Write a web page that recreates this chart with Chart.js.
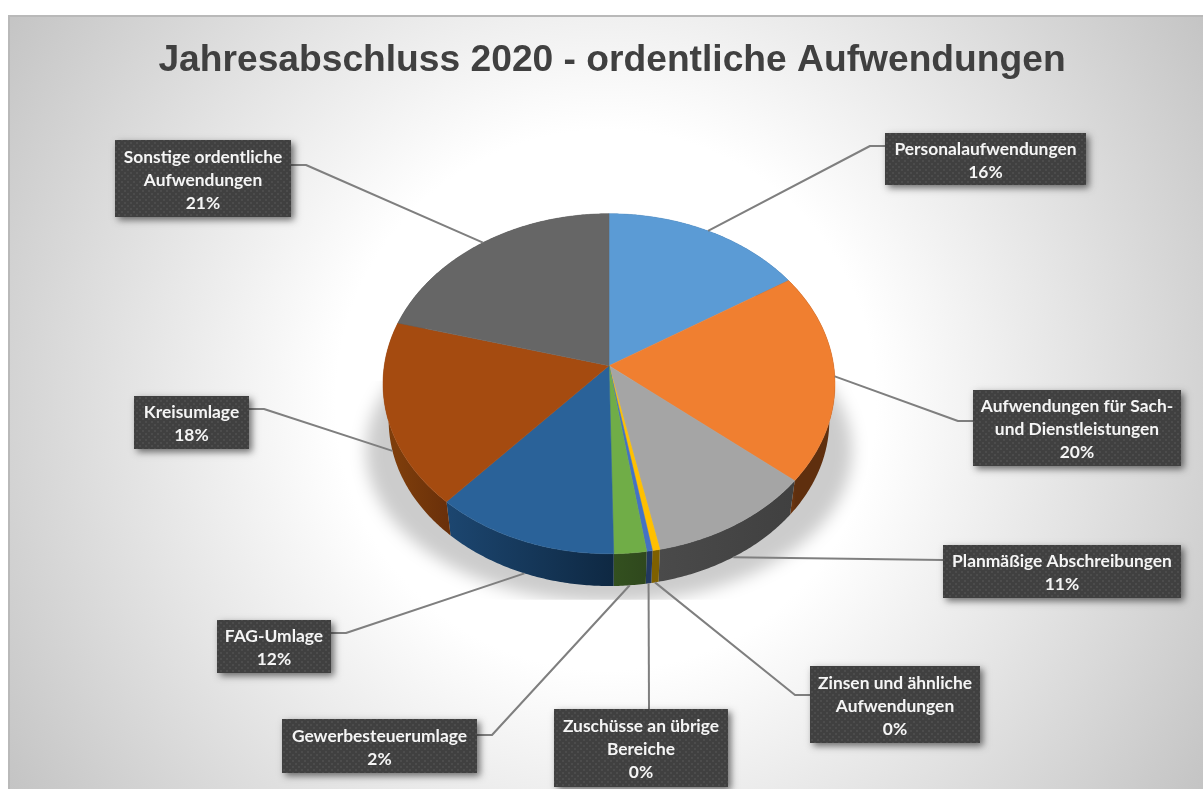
<!DOCTYPE html>
<html><head><meta charset="utf-8">
<style>html,body{margin:0;padding:0;background:#fff;overflow:hidden}#wrap{position:absolute;left:0;top:0;width:1203px;height:789px}canvas{display:block}</style>
<script src="https://cdn.jsdelivr.net/npm/chart.js@4/dist/chart.umd.js"></script>
</head><body><div id="wrap"><canvas id="c" width="1203" height="789"></canvas></div>
<script>
const chartTitle = "Jahresabschluss 2020 - ordentliche Aufwendungen";
const categories = [
  ["Personalaufwendungen"],
  ["Aufwendungen für Sach-","und Dienstleistungen"],
  ["Planmäßige Abschreibungen"],
  ["Zinsen und ähnliche","Aufwendungen"],
  ["Zuschüsse an übrige","Bereiche"],
  ["Gewerbesteuerumlage"],
  ["FAG-Umlage"],
  ["Kreisumlage"],
  ["Sonstige ordentliche","Aufwendungen"]
];
const values = [16, 20, 10.75, 0.48, 0.37, 2.1, 11.9, 17.6, 20.8];
const colors = ["#5B9BD5","#F07F30","#A5A5A5","#FFC000","#4472C4","#70AD47","#2A6299","#A54B10","#666666"];
const wallFrom = ["#2f5378","#7a3d12","#4a4a4a","#7f6000","#22385f","#33501f","#1c4670","#7d3d0b","#444444"];
const wallTo   = ["#2f5378","#5f2f0e","#404040","#7f6000","#22385f","#2f481d","#0e2842","#6a300a","#444444"];
// label box layout: [left, top, right, bottom, elbowX, elbowY]
const boxes = [
  [885,133,1086,185, 870,146],
  [973,390,1181,466, 958,421],
  [943,545,1181,598, 943,560],
  [810,666,980,743, 795,695],
  [554,709,728,787, 649,709],
  [282,719,477,773, 492,735],
  [217,620,331,673, 346,633],
  [134,396,249,449, 264,409],
  [115,140,291,217, 306,165]
];
// perspective of the tilted pie
const B = -0.1059, KX = 0.9943, KY = 0.7438, WALL_S = 0.975, WALL_DY = 37;

function topPt(arc, a){
  const u=Math.cos(a), v=Math.sin(a), d=1+B*v, r=arc.outerRadius;
  return [arc.x + r*KX*u/d, arc.y + r*KY*v/d];
}
function botPt(arc, a){
  const p=topPt(arc,a);
  return [arc.x+(p[0]-arc.x)*WALL_S, arc.y+(p[1]-arc.y)*WALL_S+WALL_DY];
}
function topDraw(ctx){
  ctx.save();
  ctx.beginPath();
  ctx.moveTo(this.x,this.y);
  const n=Math.max(2,Math.ceil((this.endAngle-this.startAngle)/0.01));
  for(let i=0;i<=n;i++){
    const p=topPt(this,this.startAngle+(this.endAngle-this.startAngle)*i/n);
    ctx.lineTo(p[0],p[1]);
  }
  ctx.closePath();
  ctx.fillStyle=this.options.backgroundColor;
  ctx.strokeStyle=this.options.backgroundColor;
  ctx.lineWidth=0.5;
  ctx.fill();ctx.stroke();
  ctx.restore();
}
const piePlugin = {
  id:'pie3d',
  beforeDraw(chart){
    const ctx=chart.ctx;
    ctx.save();
    ctx.fillStyle='#fff';ctx.fillRect(0,0,chart.width,chart.height);
    const g=ctx.createRadialGradient(606,400,270,606,400,712);
    g.addColorStop(0,'#ffffff');g.addColorStop(1,'#c4c4c4');
    ctx.fillStyle=g;ctx.fillRect(8,15,chart.width-8,chart.height-15);
    ctx.fillStyle='#b9b9b9';
    ctx.fillRect(8,15,chart.width-8,2);
    ctx.fillRect(8,15,2,chart.height-15);
    ctx.restore();
  },
  afterLayout(chart){
    if(chart.titleBlock){chart.titleBlock.left+=3;chart.titleBlock.right+=3;}
  },
  beforeDatasetsDraw(chart){
    const ctx=chart.ctx, meta=chart.getDatasetMeta(0), arcs=meta.data;
    const a0=arcs[0];
    // soft ground shadow
    ctx.save();
    ctx.beginPath();ctx.rect(a0.x-260,a0.y+15,520,219);ctx.clip();
    ctx.filter='blur(8px)';
    ctx.fillStyle='rgba(0,0,0,0.2)';
    ctx.beginPath();ctx.ellipse(a0.x,a0.y+85,243,152,0,0,Math.PI*2);ctx.fill();
    ctx.filter='none';
    ctx.restore();
    // side walls
    arcs.forEach((arc,i)=>{
      const n=Math.max(2,Math.ceil((arc.endAngle-arc.startAngle)/0.01));
      const p0=topPt(arc,arc.startAngle),p1=topPt(arc,arc.endAngle);
      const g=ctx.createLinearGradient(Math.min(p0[0],p1[0]),0,Math.max(p0[0],p1[0])+1,0);
      g.addColorStop(0,wallFrom[i]);g.addColorStop(1,wallTo[i]);
      ctx.beginPath();
      for(let k=0;k<=n;k++){const p=topPt(arc,arc.startAngle+(arc.endAngle-arc.startAngle)*k/n);k?ctx.lineTo(p[0],p[1]):ctx.moveTo(p[0],p[1]);}
      for(let k=n;k>=0;k--){const p=botPt(arc,arc.startAngle+(arc.endAngle-arc.startAngle)*k/n);ctx.lineTo(p[0],p[1]);}
      ctx.closePath();
      ctx.fillStyle=g;ctx.fill();
      arc.draw=topDraw;
    });
  },
  afterDatasetsDraw(chart){
    const ctx=chart.ctx, arcs=chart.getDatasetMeta(0).data, total=values.reduce((a,b)=>a+b,0);
    // leader lines
    ctx.save();
    ctx.strokeStyle='#7f7f7f';ctx.lineWidth=2;ctx.lineJoin='round';
    arcs.forEach((arc,i)=>{
      const mid=(arc.startAngle+arc.endAngle)/2, b=boxes[i];
      const p=Math.sin(mid)>0.1?botPt(arc,mid):topPt(arc,mid);
      ctx.beginPath();ctx.moveTo(p[0],p[1]);ctx.lineTo(b[4],b[5]);
      const ex=b[4]<b[0]?b[0]:b[4]>b[2]?b[2]:b[4];
      ctx.lineTo(ex,b[5]);ctx.stroke();
    });
    ctx.restore();
    // textured label boxes
    const pc=document.createElement('canvas');pc.width=6;pc.height=6;
    const q=pc.getContext('2d');q.fillStyle='#404040';q.fillRect(0,0,6,6);
    q.fillStyle='#4c4c4c';q.fillRect(1,1,2,2);q.fillRect(4,4,2,2);
    const pat=ctx.createPattern(pc,'repeat');
    boxes.forEach((b,i)=>{
      ctx.save();
      ctx.shadowColor='rgba(0,0,0,0.55)';ctx.shadowBlur=7;ctx.shadowOffsetX=3;ctx.shadowOffsetY=3;
      ctx.fillStyle='#404040';ctx.fillRect(b[0],b[1],b[2]-b[0],b[3]-b[1]);
      ctx.restore();
      ctx.fillStyle=pat;ctx.fillRect(b[0],b[1],b[2]-b[0],b[3]-b[1]);
      const lines=categories[i].concat([Math.round(values[i]/total*100)+"%"]);
      ctx.fillStyle='#f5f5f5';ctx.font='bold 17.4px Lato, "Open Sans", sans-serif';
      ctx.textAlign='center';ctx.textBaseline='middle';
      const cx=(b[0]+b[2])/2, cy=(b[1]+b[3])/2+1.5, lh=23;
      lines.forEach((t,k)=>ctx.fillText(t,cx,cy+(k-(lines.length-1)/2)*lh));
    });
  }
};
new Chart(document.getElementById('c'),{
  type:'pie',
  data:{labels:categories,datasets:[{data:values,backgroundColor:colors,borderWidth:0}]},
  plugins:[piePlugin],
  options:{
    responsive:false,animation:false,radius:226,
    layout:{padding:{left:15,right:0,top:0,bottom:140.2}},
    events:[],
    plugins:{
      legend:{display:false},tooltip:{enabled:false},
      title:{display:true,text:chartTitle,color:'#404040',
        font:{family:'"Liberation Sans", Arial, sans-serif',size:37.2,weight:'bold',lineHeight:1.2},
        padding:{top:38,bottom:0}}
    }
  }
});
</script></body></html>
